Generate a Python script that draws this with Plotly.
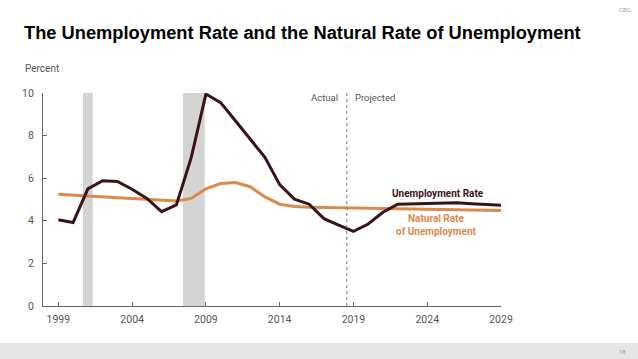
import plotly.graph_objects as go

years = list(range(1999, 2030))
unemployment = [4.05, 3.92, 5.5, 5.88, 5.85, 5.48, 5.05, 4.43, 4.75, 6.95, 9.95, 9.55,
                8.7, 7.85, 6.98, 5.7, 5.02, 4.78, 4.1, 3.8, 3.5, 3.85, 4.4, 4.78,
                4.8, 4.8, 4.82, 4.85, 4.8, 4.75, 4.73]
natural = [5.25, 5.2, 5.15, 5.1, 5.08, 5.05, 5.0, 4.98, 4.93, 5.05, 5.5, 5.75,
           5.8, 5.6, 5.12, 4.78, 4.67, 4.64, 4.63, 4.62, 4.61, 4.6, 4.59, 4.58,
           4.57, 4.56, 4.54, 4.52, 4.5, 4.49, 4.48]
recessions = [(2000.67, 2001.33), (2007.45, 2008.92)]
split_year = 2018.55
x_ticks = [1999, 2004, 2009, 2014, 2019, 2024, 2029]
y_ticks = [0, 2, 4, 6, 8, 10]

W, H = 638, 359
L, R, T, B = 43, 137, 93, 53
PW, PH = W - L - R, H - T - B


def px(x):
    return (x - L) / PW


def py(y):
    return (H - B - y) / PH


TXT = "Roboto"
DARK = "#3b1215"
ORANGE = "#d98a4c"
GREY = "#555555"

fig = go.Figure()

for x0, x1 in recessions:
    fig.add_shape(type="rect", xref="x", yref="y", x0=x0, x1=x1, y0=0, y1=10,
                  fillcolor="#d4d4d4", line_width=0, layer="below")

fig.add_shape(type="line", xref="x", yref="y", x0=split_year, x1=split_year, y0=0, y1=10.05,
              line=dict(color="#777777", width=1, dash="dot"))

# footer bar
fig.add_shape(type="rect", xref="paper", yref="paper", x0=px(-5), x1=px(W + 5),
              y0=py(H + 5), y1=py(343), fillcolor="#e5e5e5", line_width=0, layer="below")

fig.add_trace(go.Scatter(x=years, y=natural, mode="lines",
                         line=dict(color=ORANGE, width=3), hoverinfo="skip"))
fig.add_trace(go.Scatter(x=years, y=unemployment, mode="lines",
                         line=dict(color=DARK, width=3), hoverinfo="skip"))

fig.update_layout(
    width=W, height=H,
    margin=dict(l=L, r=R, t=T, b=B, autoexpand=False),
    paper_bgcolor="white", plot_bgcolor="white",
    showlegend=False,
    font=dict(family=TXT, size=10, color=GREY),
    xaxis=dict(range=[1997.96, 2029], tickvals=x_ticks, ticks="inside", ticklen=4,
               tickcolor="#666666", showline=True, linecolor="#666666", linewidth=1,
               showgrid=False, zeroline=False, ticklabelstandoff=3,
               tickfont=dict(size=10.5, color=GREY)),
    yaxis=dict(range=[0, 10], tickvals=y_ticks, ticks="inside", ticklen=4,
               tickcolor="#666666", showline=True, linecolor="#666666", linewidth=1,
               showgrid=False, zeroline=False, ticklabelstandoff=6,
               tickfont=dict(size=10.5, color=GREY)),
)

anns = [
    dict(text="<b>The Unemployment Rate and the Natural Rate of Unemployment</b>",
         xref="paper", yref="paper", x=px(22), y=py(32),
         xanchor="left", yanchor="middle",
         font=dict(family="Liberation Sans", size=18.3, color="black")),
    dict(text="Percent", xref="paper", yref="paper", x=px(23), y=py(69),
         xanchor="left", yanchor="middle", font=dict(size=10, color=GREY)),
    dict(text="CBO", xref="paper", yref="paper", x=px(625), y=py(10),
         xanchor="center", yanchor="middle", font=dict(size=6, color="#999999")),
    dict(text="18", xref="paper", yref="paper", x=px(622), y=py(351),
         xanchor="center", yanchor="middle", font=dict(size=6, color="#999999")),
    dict(text="Actual", xref="x", yref="paper", x=split_year - 0.45, y=py(97),
         xanchor="right", yanchor="middle", font=dict(size=9.5, color=GREY)),
    dict(text="Projected", xref="x", yref="paper", x=split_year + 0.45, y=py(97),
         xanchor="left", yanchor="middle", font=dict(size=9.5, color=GREY)),
    dict(text="<b>Unemployment Rate</b>", xref="x", yref="y", x=2024.75, y=5.3,
         xanchor="center", yanchor="middle", font=dict(size=10, color=DARK)),
    dict(text="<b>Natural Rate<br>of Unemployment</b>", xref="x", yref="y", x=2024.65, y=3.8,
         xanchor="center", yanchor="middle", font=dict(size=10, color=ORANGE)),
]
for a in anns:
    a["showarrow"] = False
fig.update_layout(annotations=anns)

fig.write_html("out.html", config={"displayModeBar": False},
               post_script="document.body.style.margin='0px';document.body.style.padding='0px';")
